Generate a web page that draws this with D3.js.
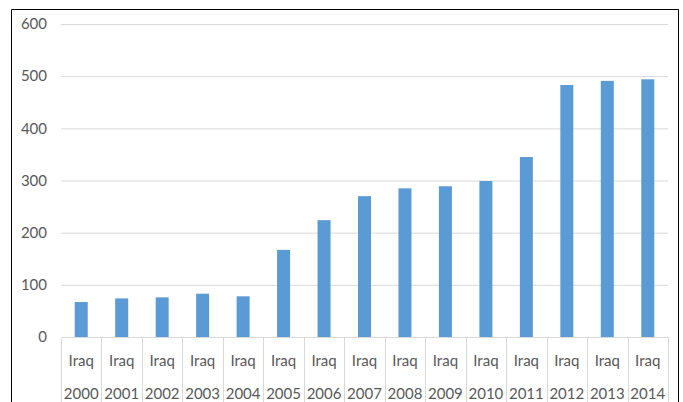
<!DOCTYPE html>
<html>
<head>
<meta charset="utf-8">
<script src="https://cdn.jsdelivr.net/npm/d3@7"></script>
<style>
  html, body { margin: 0; padding: 0; background: #fff; }
  svg { display: block; }
  text { font-family: Lato, "Open Sans", sans-serif; fill: #595959; }
</style>
</head>
<body>
<svg id="chart" width="683" height="402"></svg>
<script>
// Annual values for Iraq, 2000–2014
const country = "Iraq";
const years = ["2000","2001","2002","2003","2004","2005","2006","2007","2008","2009","2010","2011","2012","2013","2014"];
const values = [67, 74, 76, 83, 78, 167, 224, 270, 285, 289, 299, 345, 483, 491, 494];
const yTicks = [0, 100, 200, 300, 400, 500, 600];

const svg = d3.select("#chart");
const W = 683, H = 402;
const plot = { left: 61, right: 668, top: 24, bottom: 337 };
const fontSize = 15;

// Chart frame (bottom edge runs off the page)
svg.append("path")
  .attr("d", `M11.5,${H + 2} V9.5 H678.5 V${H + 2}`)
  .attr("fill", "none")
  .attr("stroke", "#000")
  .attr("stroke-width", 1);

const x = d3.scaleBand().domain(years).range([plot.left, plot.right]).paddingInner(0).paddingOuter(0);
const y = d3.scaleLinear().domain([0, 600]).range([plot.bottom, plot.top]);

// Horizontal gridlines and value labels
const yAxis = d3.axisLeft(y).tickValues(yTicks).tickSize(-(plot.right - plot.left)).tickPadding(14);
const gy = svg.append("g").attr("transform", `translate(${plot.left},0)`).call(yAxis);
gy.select(".domain").remove();
gy.selectAll(".tick line").attr("stroke", "#d9d9d9").attr("stroke-width", 1);
gy.selectAll(".tick text").attr("font-size", fontSize).attr("fill", "#595959")
  .attr("font-family", "Lato, 'Open Sans', sans-serif");

// Bars
const barW = 13;
svg.append("g").selectAll("rect")
  .data(values)
  .join("rect")
  .attr("x", (d, i) => x(years[i]) + x.bandwidth() / 2 - barW / 2)
  .attr("y", d => y(d))
  .attr("width", barW)
  .attr("height", d => y(0) - y(d))
  .attr("fill", "#5b9bd5");

// Two-level category axis: separators between categories
const bounds = years.map(yr => x(yr)).concat([plot.right]);
svg.append("g").selectAll("line")
  .data(bounds)
  .join("line")
  .attr("x1", d => Math.round(d) + 0.5)
  .attr("x2", d => Math.round(d) + 0.5)
  .attr("y1", plot.bottom)
  .attr("y2", H)
  .attr("stroke", "#d9d9d9");

const labels = svg.append("g");
labels.selectAll("text.country")
  .data(years)
  .join("text")
  .attr("class", "country")
  .attr("x", d => x(d) + x.bandwidth() / 2)
  .attr("y", 366)
  .attr("text-anchor", "middle")
  .attr("font-size", fontSize)
  .text(country);
labels.selectAll("text.year")
  .data(years)
  .join("text")
  .attr("class", "year")
  .attr("x", d => x(d) + x.bandwidth() / 2)
  .attr("y", 399)
  .attr("text-anchor", "middle")
  .attr("font-size", fontSize)
  .text(d => d);
</script>
</body>
</html>
